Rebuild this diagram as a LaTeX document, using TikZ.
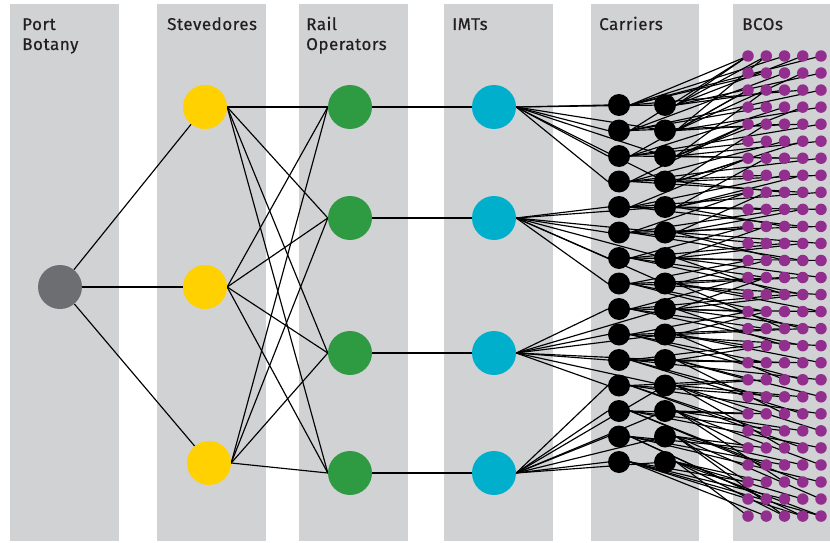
\documentclass[tikz,border=0pt]{standalone}
\usepackage{fontspec}
\setmainfont{Fira Sans}[UprightFeatures={FakeBold=0.5}, LetterSpace=3]
\pgfdeclarelayer{bands}
\pgfdeclarelayer{edges}
\pgfsetlayers{bands,edges,main}
\definecolor{bandgray}{HTML}{D1D2D4}
\definecolor{portgray}{HTML}{6D6E71}
\definecolor{stevyellow}{HTML}{FFD100}
\definecolor{railgreen}{HTML}{2E9A42}
\definecolor{imtcyan}{HTML}{00AFCB}
\definecolor{bcopurple}{HTML}{922F8E}
\definecolor{labeltext}{HTML}{231F20}
\tikzset{
  band/.style={fill=bandgray, draw=none},
  lbl/.style={anchor=base west, align=left, inner sep=0pt, text=labeltext,
              font=\fontsize{17}{20}\selectfont},
  bignode/.style={circle, minimum size=44pt, inner sep=0pt, draw=none},
  portnode/.style={bignode, fill=portgray},
  stevnode/.style={bignode, fill=stevyellow},
  railnode/.style={bignode, fill=railgreen},
  imtnode/.style={bignode, fill=imtcyan},
  carnode/.style={circle, minimum size=22pt, inner sep=0pt, fill=black, draw=none},
  bconode/.style={circle, minimum size=11.5pt, inner sep=0pt, fill=bcopurple, draw=none},
  edge/.style={draw=black, line width=1.15pt},
}
\begin{document}
\begin{tikzpicture}[x=1pt,y=-1pt]
\useasboundingbox (0,0) rectangle (830,543);
\begin{pgfonlayer}{bands}
  \fill[white] (0,0) rectangle (830,543);
  \fill[band] (10,4) rectangle (119,541);
  \fill[band] (157,4) rectangle (266,541);
  \fill[band] (299,4) rectangle (408,541);
  \fill[band] (444,4) rectangle (553,541);
  \fill[band] (591,4) rectangle (699,541);
  \fill[band] (733,4) rectangle (830,541);
\end{pgfonlayer}

% labels
\node[lbl] (Lport) at (22,50) {Port\\Botany};
\node[lbl] (Lstev) at (167,30) {Stevedores};
\node[lbl] (Lrail) at (306,50) {Rail\\Operators};
\node[lbl] (Limt) at (452,30) {IMTs};
\node[lbl] (Lcar) at (599,30) {Carriers};
\node[lbl] (Lbco) at (742,30) {BCOs};

% main nodes
\node[portnode] (P) at (60,287) {};
\node[stevnode] (S1) at (205,107) {};
\node[stevnode] (S2) at (205,287) {};
\node[stevnode] (S3) at (209,463) {};
\node[railnode] (R1) at (350,107) {};
\node[railnode] (R2) at (350,218) {};
\node[railnode] (R3) at (350,353) {};
\node[railnode] (R4) at (350,473) {};
\node[imtnode] (I1) at (494,107) {};
\node[imtnode] (I2) at (494,218) {};
\node[imtnode] (I3) at (494,353) {};
\node[imtnode] (I4) at (494,473) {};

% carriers
\foreach \k in {0,...,14} {
  \node[carnode] (C0-\k) at (619,105+\k*25.5) {};
  \node[carnode] (C1-\k) at (665,105+\k*25.5) {};
}
% BCOs
\foreach \r in {0,...,27} {
  \foreach \j in {0,...,4} {
    \node[bconode] (B\j-\r) at (748+\j*18.25,56+\r*17.04) {};
  }
}

\begin{pgfonlayer}{edges}
  \foreach \s in {S1,S2,S3} { \draw[edge] (P) -- (\s); }
  \foreach \s in {S1,S2,S3} {
    \foreach \r in {R1,R2,R3,R4} { \draw[edge] (\s.east) -- (\r.west); }
  }
  \foreach \i in {1,2,3,4} { \draw[edge] (R\i) -- (I\i); }
  \foreach \i/\a/\b in {1/0/3, 2/4/7, 3/8/11, 4/11/14} {
    \foreach \k in {\a,...,\b} {
      \draw[edge] (I\i.east) -- (C0-\k.west);
      \draw[edge] (I\i.east) -- (C1-\k.center);
    }
  }
  \foreach \k in {0,...,14} {
    \foreach \c/\j/\o in {0/0/-2, 0/2/-1, 0/4/0, 0/1/1, 0/3/2,
                         1/1/-2, 1/3/-1, 1/0/0, 1/4/1, 1/2/2} {
      \pgfmathtruncatemacro{\rr}{max(0,min(27,round(\k*27/14+\o)))}
      \draw[edge] (C\c-\k.east) -- (B\j-\rr.center);
    }
  }
\end{pgfonlayer}
\end{tikzpicture}
\end{document}
